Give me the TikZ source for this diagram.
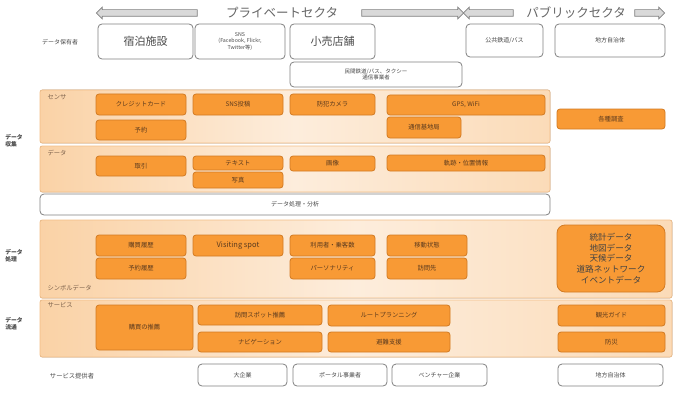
\documentclass[tikz,border=0pt]{standalone}
\usepackage{fontspec}
\setmainfont{Noto Sans CJK JP}
\usetikzlibrary{shapes.arrows}
\definecolor{boxfill}{HTML}{F89A35}
\definecolor{boxline}{HTML}{D27A22}
\definecolor{boxtext}{HTML}{5B3A1E}
\definecolor{bandedge}{HTML}{F3BE86}
\definecolor{bandside}{HTML}{FAD2A6}
\definecolor{bandmid}{HTML}{FDEDDC}
\definecolor{frame}{HTML}{808080}
\definecolor{ink}{HTML}{4A4A4A}
\definecolor{arrowfill}{HTML}{D9D9D9}
\tikzset{
  obox/.style={draw=boxline,fill=boxfill,rounded corners=3pt,line width=.8pt,inner sep=1pt,
    align=center,text=boxtext,font=\fontsize{6.3}{7.5}\selectfont},
  wbox/.style={draw=frame,fill=white,rounded corners=4pt,line width=.8pt,inner sep=1pt,
    align=center,text=ink,font=\fontsize{6}{7}\selectfont},
  band/.style={draw=bandedge,line width=.6pt,rounded corners=2pt,left color=bandside,
    right color=bandside!80,middle color=bandmid},
  sector/.style={single arrow,draw=frame,fill=arrowfill,line width=.7pt,minimum width=11pt,
    single arrow head extend=2.5pt,inner xsep=0pt,inner ysep=3pt},
  sectortext/.style={text=ink!85,font=\fontsize{12.5}{13}\selectfont},
  sidelabel/.style={text=ink,font=\bfseries\fontsize{5.8}{6.6}\selectfont,align=left},
  bandlabel/.style={anchor=west,text=boxtext!80,font=\fontsize{6.3}{7}\selectfont}}
\begin{document}
\begin{tikzpicture}[x=1pt,y=-1pt]
\useasboundingbox (0,0) rectangle (676,401);
% sectors
\node[sector,minimum height=101pt,shape border rotate=180] (privL) at (148.5,13) {};
\node[sectortext] (priv) at (282,13) {プライベートセクタ};
\node[sector,minimum height=102pt] (privR) at (411,13) {};
\node[sector,minimum height=50pt,shape border rotate=180] (pubL) at (490,13) {};
\node[sectortext] (pub) at (576,13) {パブリックセクタ};
\node[sector,minimum height=30pt] (pubR) at (648,13) {};
% data owners
\node[text=ink,font=\fontsize{6}{7}\selectfont] (ownerlbl) at (60,42) {データ保有者};
\node[wbox,minimum width=95pt,minimum height=35pt,font=\fontsize{11}{12}\selectfont] (hotel) at (145.5,41.5) {宿泊施設};
\node[wbox,minimum width=90pt,minimum height=35pt,font=\fontsize{5.3}{6.2}\selectfont] (sns) at (240,41.5) {SNS\\(Facebook, Flickr,\\Twitter等)};
\node[wbox,minimum width=85pt,minimum height=35pt,font=\fontsize{11}{12}\selectfont] (retail) at (332.5,41.5) {小売店舗};
\node[wbox,minimum width=172pt,minimum height=25pt,font=\fontsize{5.5}{6.5}\selectfont] (private) at (376,74.5) {民間鉄道/バス、タクシー\\通信事業者};
\node[wbox,minimum width=77pt,minimum height=33pt] (rail) at (504.5,40.5) {公共鉄道/バス};
\node[wbox,minimum width=110pt,minimum height=33pt] (localgov) at (610,40.5) {地方自治体};
% bands
\fill[band] (40,90) rectangle (550,143);
\fill[band] (40,146) rectangle (550,192);
\fill[band] (40,220) rectangle (672,298);
\fill[band] (40,300) rectangle (672,357);
\node[bandlabel] (sensorlbl) at (44,97) {センサ};
\node[bandlabel] (datalbl) at (44,153) {データ};
\node[bandlabel] (symbollbl) at (44,288) {シンボルデータ};
\node[bandlabel] (servicelbl) at (44,305) {サービス};
\node[sidelabel] (collect) at (14,141) {データ\\収集};
\node[sidelabel] (process) at (14,256) {データ\\処理};
\node[sidelabel] (flow) at (14,324) {データ\\流通};
% orange boxes
\foreach \nm/\xa/\ya/\xb/\yb/\txt in {
  credit/96/94/186/115/クレジットカード, snspost/193/94/283/115/SNS投稿,
  camera/290/94/375/115/防犯カメラ, gps/387/95/545/115/{GPS, WiFi},
  booking/96/120/186/140/予約, station/387/117/461/138/通信基地局,
  survey/557/109/665/129/各種調査,
  trade/96/156/186/176/取引, text/193/156/283/170/テキスト,
  photo/193/172/283/188/写真, image/290/156/375/171/画像,
  trace/387/155/545/171/軌跡・位置情報,
  purchase/96/235/186/256/購買履歴, bookhist/96/258/186/279/予約履歴,
  visit/193/235/283/256/{\fontsize{7.5}{8}\selectfont Visiting spot},
  users/290/235/375/256/利用者・乗客数, persona/290/258/375/279/パーソナリティ,
  move/387/235/467/256/移動状態, dest/387/258/467/279/訪問先,
  recommend/96/305/193/350/購買の推薦, spotrec/198/305/322/325/訪問スポット推薦,
  navi/198/332/322/352/ナビゲーション, route/328/305/450/326/ルートプランニング,
  evac/328/332/450/352/避難支援, guide/558/305/665/326/観光ガイド,
  disaster/558/332/665/352/防災}
  \node[obox,minimum width={(\xb-\xa)*1pt},minimum height={(\yb-\ya)*1pt}] (\nm) at ({(\xa+\xb)/2},{(\ya+\yb)/2}) {\txt};
\node[obox,rounded corners=8pt,minimum width=108pt,minimum height=67pt,text=ink!90!black,
  font=\fontsize{8.6}{10.6}\selectfont] (open) at (611,258.5) {統計データ\\地図データ\\天候データ\\道路ネットワーク\\イベントデータ};
% processing
\node[wbox,minimum width=510pt,minimum height=21pt] (analysis) at (295,204.5) {データ処理・分析};
% service providers
\node[text=ink,font=\fontsize{6.3}{7}\selectfont] (providerlbl) at (72,376) {サービス提供者};
\foreach \nm/\xa/\xb/\txt in {bigco/198/287/大企業, portal/293/387/ポータル事業者,
  venture/392/487/ベンチャー企業, city/558/663/地方自治体}
  \node[wbox,minimum width={(\xb-\xa)*1pt},minimum height=22pt] (\nm) at ({(\xa+\xb)/2},375) {\txt};
\end{tikzpicture}
\end{document}
